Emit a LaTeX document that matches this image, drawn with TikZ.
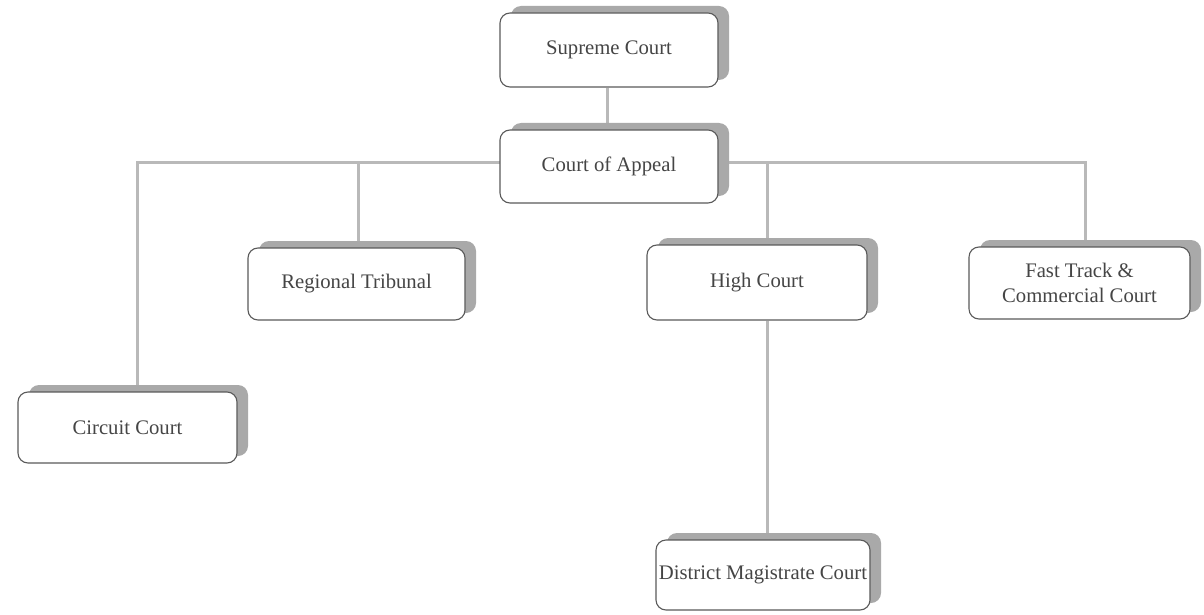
\documentclass[tikz,border=0pt]{standalone}
\usepackage{fontspec}
\setmainfont{Liberation Serif}
\usetikzlibrary{shadows,backgrounds}
\definecolor{boxline}{HTML}{5A5A5A}
\definecolor{shade}{HTML}{A9A9A9}
\definecolor{conn}{HTML}{B9B9B9}
\definecolor{txt}{HTML}{454545}
\tikzset{
  court/.style={draw=boxline, line width=1.1pt, fill=white, rounded corners=10pt,
    inner sep=0pt, align=center, text=txt,
    font=\fontsize{20.7}{25}\selectfont,
    general shadow={fill=shade, shadow xshift=11pt, shadow yshift=7pt}},
  link/.style={draw=conn, line width=3pt}
}
\begin{document}
\begin{tikzpicture}[x=1pt,y=-1pt]
\useasboundingbox (0,0) rectangle (1204,615);
% boxes
\node[court, minimum width=218pt, minimum height=74pt] (sup) at (609,50) {Supreme Court};
\node[court, minimum width=218pt, minimum height=73pt] (app) at (609,166.5) {Court of Appeal};
\node[court, minimum width=217pt, minimum height=72pt] (reg) at (356.5,284) {Regional Tribunal};
\node[court, minimum width=219pt, minimum height=71pt] (circ) at (127.5,427.5) {Circuit Court};
\node[court, minimum width=220pt, minimum height=75pt] (high) at (757,282.5) {High Court};
\node[court, minimum width=221pt, minimum height=72pt] (fast) at (1079.5,283) {Fast Track \&\\Commercial Court};
\node[court, minimum width=214pt, minimum height=70pt] (dist) at (763,575) {District Magistrate Court};
% connectors (behind boxes)
\begin{scope}[on background layer]
\fill[white] (0,0) rectangle (1204,615);
\coordinate (bus) at ([yshift=4.5pt]app.center);
\draw[link] ([xshift=-2pt]sup.south) -- ([xshift=-2pt]app.north);
\draw[link] ([xshift=9.5pt]circ.north) |- (bus);
\draw[link] ([xshift=5.5pt]fast.north) |- (bus);
\draw[link] ([xshift=1.5pt]reg.north) -- ([xshift=1.5pt]reg.north |- bus);
\draw[link] ([xshift=10pt]high.north) -- ([xshift=10pt]high.north |- bus);
\draw[link] ([xshift=10pt]high.south) -- ([xshift=10pt]high.south |- dist.north);
\end{scope}
\end{tikzpicture}
\end{document}
